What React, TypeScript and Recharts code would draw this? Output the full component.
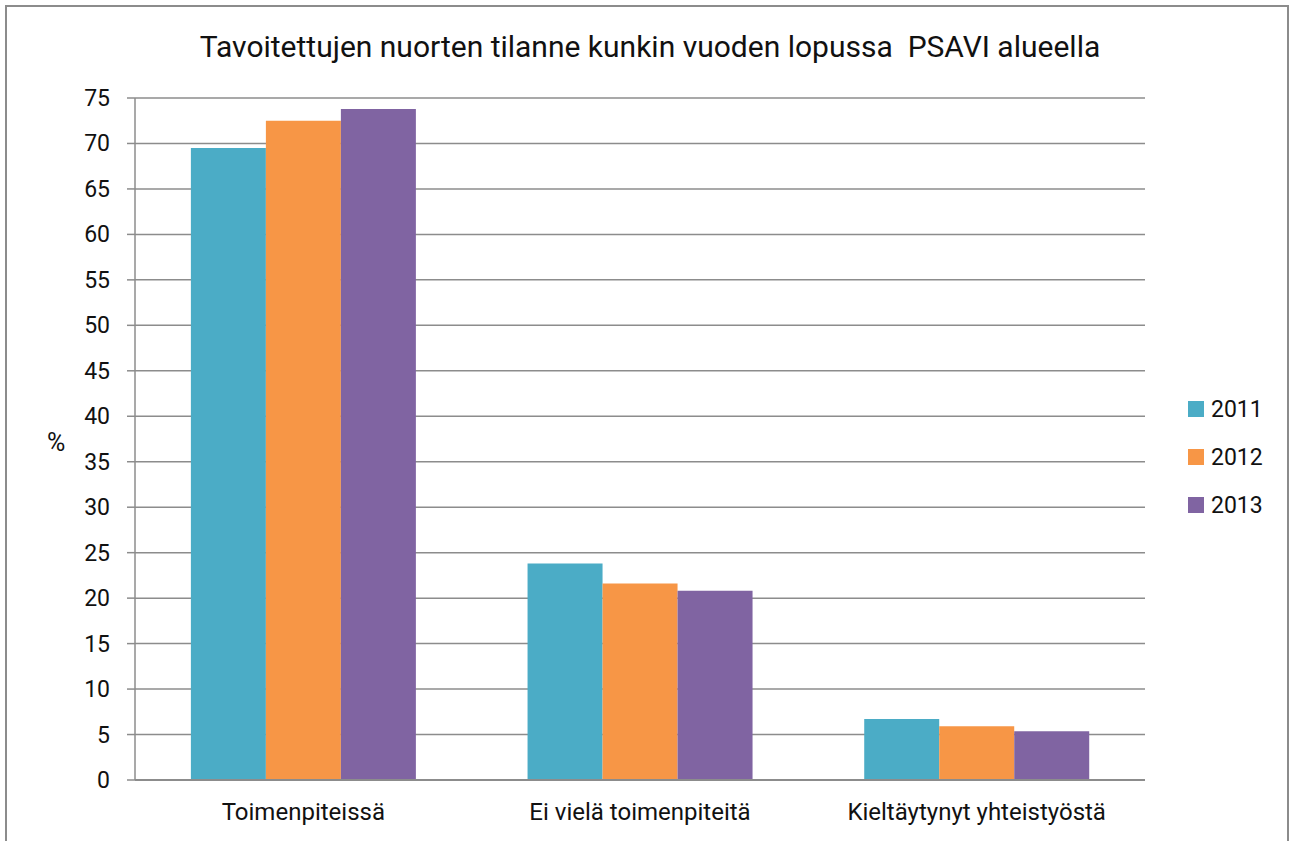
import { BarChart, Bar, XAxis, YAxis, CartesianGrid } from 'recharts'

const categories = ['Toimenpiteissä', 'Ei vielä toimenpiteitä', 'Kieltäytynyt yhteistyöstä']
const years = ['2011', '2012', '2013']
const colors = ['#4BACC6', '#F79646', '#8064A2']
const v2011 = [69.5, 23.8, 6.7]
const v2012 = [72.5, 21.6, 5.9]
const v2013 = [73.8, 20.8, 5.35]
const yTicks = [0, 5, 10, 15, 20, 25, 30, 35, 40, 45, 50, 55, 60, 65, 70, 75]

const series = [v2011, v2012, v2013]

const data = categories.map((name, i) => {
  const row: any = { name, edge: i }
  years.forEach((y, j) => {
    row[y] = series[j][i]
  })
  return row
})

const FONT = 'Roboto, "Open Sans", sans-serif'
const GRAY = '#8c8c8c'

// y tick labels, right-aligned left of the tick line
const YTick = (p: any) => (
  <text x={p.x} y={p.y} dy={8} textAnchor="end" fontSize={23} fill="#111" fontFamily={FONT}>
    {p.payload.value}
  </text>
)

export default function App() {
  return (
    <div style={{ position: 'absolute', left: 0, top: 0, width: 1292, height: 841, background: '#fff', fontFamily: FONT, overflow: 'hidden' }}>
      <div style={{ position: 'absolute', left: 5, top: 5, width: 1284, height: 850, border: `2px solid ${GRAY}`, boxSizing: 'border-box' }} />
      <div style={{ position: 'absolute', left: 0, width: 1300, top: 29, textAlign: 'center', fontSize: 30, color: '#111', lineHeight: '36px' }}>
        Tavoitettujen nuorten tilanne kunkin vuoden lopussa&nbsp;&nbsp;PSAVI alueella
      </div>
      <div style={{ position: 'absolute', left: 47, top: 428, fontSize: 25, color: '#111', lineHeight: '30px' }}>%</div>
      <BarChart
        width={1292}
        height={841}
        data={data}
        margin={{ top: 98, right: 147, bottom: 21, left: 0 }}
        barCategoryGap="16.6%"
        barGap={0}
        style={{ position: 'absolute', left: 0, top: 0 }}
      >
        <CartesianGrid vertical={false} stroke={GRAY} strokeWidth={1.5} />
        <XAxis
          xAxisId="edges"
          type="number"
          dataKey="edge"
          domain={[0, 3]}
          ticks={[0, 1, 2, 3]}
          height={0}
          axisLine={false}
          tickLine={{ stroke: GRAY, strokeWidth: 1.5 }}
          tickSize={7}
          tick={false}
        />
        <XAxis
          dataKey="name"
          height={40}
          axisLine={{ stroke: GRAY, strokeWidth: 2 }}
          tickLine={false}
          tickMargin={17}
          tick={{ fontSize: 24, fill: '#111', fontFamily: FONT }}
        />
        <YAxis
          width={135}
          domain={[0, 75]}
          ticks={yTicks}
          interval={0}
          axisLine={{ stroke: GRAY, strokeWidth: 1.5 }}
          tickLine={{ stroke: GRAY, strokeWidth: 1.5 }}
          tickSize={8}
          tickMargin={17}
          tick={YTick}
        />
        {years.map((y, j) => (
          <Bar key={y} dataKey={y} fill={colors[j]} isAnimationActive={false} />
        ))}
      </BarChart>
      <div style={{ position: 'absolute', left: 1188, top: 385, fontSize: 23, color: '#111' }}>
        {years.map((y, j) => (
          <div key={y} style={{ display: 'flex', alignItems: 'center', height: 48 }}>
            <span style={{ width: 16, height: 16, background: colors[j], marginRight: 7 }} />
            {y}
          </div>
        ))}
      </div>
    </div>
  )
}
